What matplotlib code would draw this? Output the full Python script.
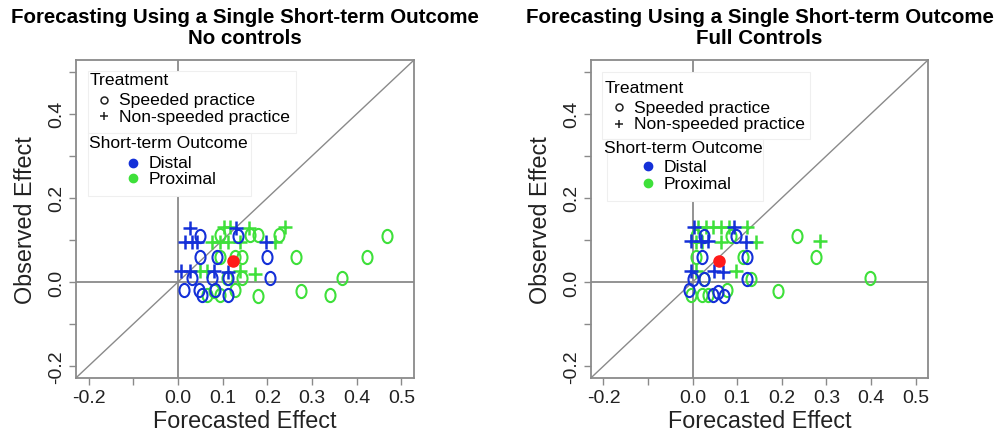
import matplotlib
matplotlib.use("Agg")
import matplotlib.pyplot as plt
from matplotlib.path import Path
from matplotlib.transforms import Affine2D
from matplotlib.patches import Rectangle
import numpy as np

plt.rcParams['font.family'] = ['Liberation Sans', 'DejaVu Sans']

# ---- data ----
# left panel: no controls
l_dist_speed_x = [0.050, 0.134, 0.050, 0.087, 0.199, 0.031, 0.076, 0.113, 0.205, 0.013, 0.048, 0.054, 0.083, 0.113]
l_dist_speed_y = [0.110, 0.110, 0.059, 0.059, 0.059, 0.009, 0.009, 0.009, 0.009, -0.020, -0.020, -0.030, -0.020, -0.032]
l_dist_nons_x = [0.026, 0.130, 0.016, 0.031, 0.042, 0.198, 0.007, 0.028, 0.080, 0.113]
l_dist_nons_y = [0.128, 0.128, 0.096, 0.096, 0.096, 0.096, 0.027, 0.027, 0.027, 0.024]
l_prox_speed_x = [0.095, 0.162, 0.178, 0.225, 0.468, 0.095, 0.128, 0.143, 0.265, 0.423,
                  0.110, 0.143, 0.367, 0.065, 0.080, 0.095, 0.128, 0.178, 0.275, 0.339]
l_prox_speed_y = [0.112, 0.112, 0.112, 0.112, 0.110, 0.059, 0.060, 0.059, 0.059, 0.059,
                  0.009, 0.009, 0.009, -0.032, -0.022, -0.030, -0.020, -0.033, -0.022, -0.032]
l_prox_nons_x = [0.102, 0.117, 0.160, 0.240, 0.076, 0.095, 0.113, 0.139, 0.218, 0.050, 0.065, 0.139, 0.173]
l_prox_nons_y = [0.130, 0.130, 0.128, 0.130, 0.095, 0.095, 0.095, 0.095, 0.095, 0.027, 0.027, 0.027, 0.020]
l_mean = (0.123, 0.050)

# right panel: full controls
r_dist_speed_x = [0.026, 0.097, 0.022, 0.123, 0.000, 0.026, 0.123, -0.008, 0.045, 0.056, 0.071]
r_dist_speed_y = [0.110, 0.110, 0.059, 0.059, 0.008, 0.008, 0.008, -0.020, -0.030, -0.024, -0.033]
r_dist_nons_x = [0.004, 0.093, -0.004, 0.019, 0.034, 0.119, -0.004, 0.048, 0.067]
r_dist_nons_y = [0.130, 0.130, 0.098, 0.098, 0.098, 0.096, 0.027, 0.027, 0.024]
r_prox_speed_x = [0.007, 0.086, 0.235, 0.007, 0.112, 0.276, 0.026, 0.130, 0.397,
                  -0.004, 0.022, 0.034, 0.078, 0.192]
r_prox_speed_y = [0.110, 0.110, 0.110, 0.059, 0.059, 0.059, 0.008, 0.008, 0.009,
                  -0.030, -0.030, -0.030, -0.020, -0.022]
r_prox_nons_x = [0.011, 0.030, 0.045, 0.063, 0.082, 0.123, 0.007, 0.022, 0.063, 0.142, 0.285, 0.007, 0.097]
r_prox_nons_y = [0.130, 0.130, 0.130, 0.130, 0.130, 0.130, 0.095, 0.095, 0.095, 0.095, 0.098, 0.027, 0.027]
r_mean = (0.060, 0.051)

titles = ["Forecasting Using a Single Short-term Outcome\nNo controls",
          "Forecasting Using a Single Short-term Outcome\nFull Controls"]
tick_vals = [-0.2, -0.1, 0.0, 0.1, 0.2, 0.3, 0.4, 0.5]
xtick_labels = ["-0.2", "", "0.0", "0.1", "0.2", "0.3", "0.4", "0.5"]
ytick_labels = ["-0.2", "", "0.0", "", "0.2", "", "0.4", ""]

blue = '#1430d8'
green = '#3ee03a'
gray = '#8a8a8a'
lim = (-0.228, 0.528)

ring = Path.unit_circle().transformed(Affine2D().scale(0.76, 1.0))

fig = plt.figure(figsize=(10, 4.39), dpi=100)
axes = [fig.add_axes([0.076, 0.137, 0.338, 0.724]),
        fig.add_axes([0.591, 0.137, 0.337, 0.724])]

panels = [
    (l_dist_speed_x, l_dist_speed_y, l_dist_nons_x, l_dist_nons_y,
     l_prox_speed_x, l_prox_speed_y, l_prox_nons_x, l_prox_nons_y, l_mean),
    (r_dist_speed_x, r_dist_speed_y, r_dist_nons_x, r_dist_nons_y,
     r_prox_speed_x, r_prox_speed_y, r_prox_nons_x, r_prox_nons_y, r_mean),
]

# legend layout (axes fraction) per panel
leg_pos = [
    dict(t1=0.940, s1=0.875, s2=0.823, t2=0.741, d1=0.676, d2=0.628,
         box1=(0.036, 0.770, 0.615, 0.195), box2=(0.036, 0.572, 0.482, 0.198)),
    dict(t1=0.914, s1=0.851, s2=0.799, t2=0.725, d1=0.666, d2=0.613,
         box1=(0.032, 0.752, 0.617, 0.211), box2=(0.047, 0.558, 0.464, 0.194)),
]

for ax, data, title, lp in zip(axes, panels, titles, leg_pos):
    dsx, dsy, dnx, dny, psx, psy, pnx, pny, mean = data
    ax.set_xlim(lim)
    ax.set_ylim(lim)
    ax.plot(lim, lim, color=gray, lw=1.0, zorder=1)
    ax.axhline(0, color=gray, lw=1.3, zorder=1)
    ax.axvline(0, color=gray, lw=1.3, zorder=1)

    ax.plot(psx, psy, ls='none', marker=ring, ms=9.5, mfc='none', mec=green, mew=1.5, zorder=3)
    ax.plot(pnx, pny, ls='none', marker='+', ms=10, mec=green, mew=1.8, zorder=3)
    ax.plot(dsx, dsy, ls='none', marker=ring, ms=9.5, mfc='none', mec=blue, mew=1.5, zorder=4)
    ax.plot(dnx, dny, ls='none', marker='+', ms=10, mec=blue, mew=1.8, zorder=4)
    ax.plot([mean[0]], [mean[1]], ls='none', marker='o', ms=8, color='#ff1a1a', zorder=5)

    ax.set_xticks(tick_vals)
    ax.set_xticklabels(xtick_labels, fontsize=14, color='#222222')
    ax.set_yticks(tick_vals)
    ax.set_yticklabels(ytick_labels, fontsize=14, color='#222222', rotation=90, va='center')
    ax.tick_params(length=5, width=1.0, color=gray, pad=3)
    for s in ax.spines.values():
        s.set_color(gray)
        s.set_linewidth(1.3)
    ax.set_xlabel("Forecasted Effect", fontsize=16.8, color='#222222', labelpad=2)
    ax.set_ylabel("Observed Effect", fontsize=16.8, color='#222222', labelpad=8)
    ax.set_title(title, fontsize=14.8, fontweight='bold', pad=12, linespacing=1.15)

    # legends drawn as in R: faint boxes with a left aligned title
    for b in (lp['box1'], lp['box2']):
        ax.add_patch(Rectangle((b[0], b[1]), b[2], b[3], transform=ax.transAxes,
                               facecolor='white', edgecolor='#efefef', lw=0.8, zorder=6))
    fs = 12.6
    tx = ax.transAxes
    ax.text(0.039, lp['t1'], "Treatment", transform=tx, fontsize=fs, va='center', zorder=7)
    ax.plot([0.084], [lp['s1']], transform=tx, ls='none', marker='o', ms=5, mfc='none',
            mec='#222222', mew=1.1, zorder=7, clip_on=False)
    ax.plot([0.084], [lp['s2']], transform=tx, ls='none', marker='+', ms=6, mec='#222222',
            mew=1.1, zorder=7, clip_on=False)
    ax.text(0.128, lp['s1'], "Speeded practice", transform=tx, fontsize=fs, va='center', zorder=7)
    ax.text(0.128, lp['s2'], "Non-speeded practice", transform=tx, fontsize=fs, va='center', zorder=7)
    ax.text(0.039, lp['t2'], "Short-term Outcome", transform=tx, fontsize=fs, va='center', zorder=7)
    ax.plot([0.170], [lp['d1']], transform=tx, ls='none', marker='o', ms=6, color=blue,
            zorder=7, clip_on=False)
    ax.plot([0.170], [lp['d2']], transform=tx, ls='none', marker='o', ms=6, color=green,
            zorder=7, clip_on=False)
    ax.text(0.215, lp['d1'], "Distal", transform=tx, fontsize=fs, va='center', zorder=7)
    ax.text(0.215, lp['d2'], "Proximal", transform=tx, fontsize=fs, va='center', zorder=7)

fig.savefig("out.png", dpi=100)
